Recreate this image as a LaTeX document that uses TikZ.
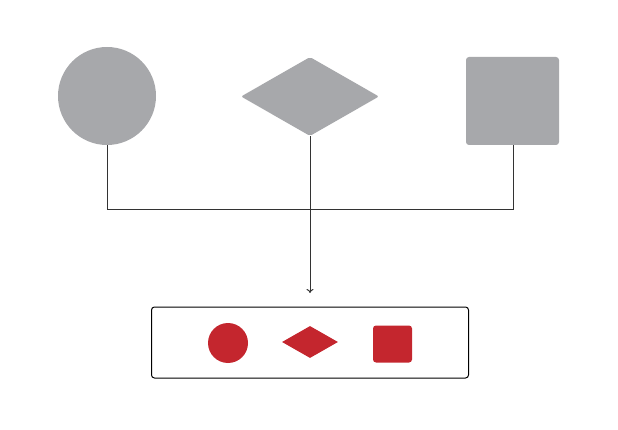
\documentclass[tikz,border=0pt]{standalone}
\usetikzlibrary{shapes.geometric,arrows.meta}
\definecolor{shapegray}{HTML}{A7A8AB}
\definecolor{shapered}{HTML}{C4262E}
\definecolor{linegray}{HTML}{333333}
\begin{document}
\begin{tikzpicture}[x=1pt,y=-1pt,
  bigshape/.style={fill=shapegray,draw=none,inner sep=0pt},
  smallshape/.style={fill=shapered,draw=none,inner sep=0pt},
  conn/.style={draw=linegray,line width=1pt},
  legendbox/.style={draw=black,line width=1pt,rounded corners=3pt}]
\useasboundingbox (0,0) rectangle (618,430);
\node[bigshape,circle,minimum size=98pt] (c) at (107,96) {};
\node[bigshape,diamond,minimum width=138pt,minimum height=79pt,shape aspect=1.75,rounded corners=2pt] (d) at (310,96.5) {};
\node[bigshape,rectangle,minimum width=93pt,minimum height=88pt,rounded corners=3pt] (s) at (512.5,101) {};
\coordinate (j1) at (107,210);
\coordinate (j2) at (513,210);
\coordinate (t) at (310,293);
\draw[conn] (c.south) -- (j1) -- (j2) -- (s.south -| j2);
\draw[conn,-{To[length=4pt,width=7pt]}] (d.south) -- (t);
\node[legendbox,minimum width=317pt,minimum height=71pt] (box) at (310,342.5) {};
\node[smallshape,circle,minimum size=40pt] (rc) at (228,343) {};
\node[smallshape,diamond,minimum width=56pt,minimum height=32pt,shape aspect=1.75] (rd) at (310,342) {};
\node[smallshape,rectangle,minimum width=39pt,minimum height=37pt,rounded corners=3pt] (rs) at (392.5,344) {};
\end{tikzpicture}
\end{document}
